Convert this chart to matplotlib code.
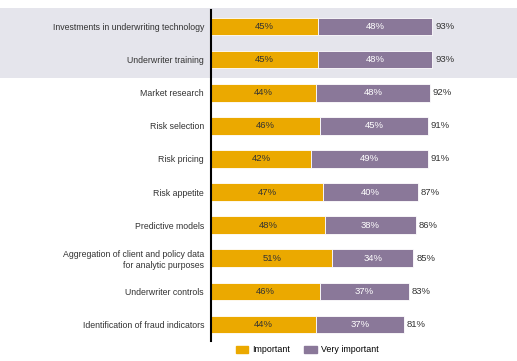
import matplotlib
matplotlib.use("Agg")
import matplotlib.pyplot as plt
import matplotlib.transforms as mtrans
from matplotlib.patches import Rectangle, Patch

plt.rcParams['font.family'] = ['Liberation Sans', 'DejaVu Sans']

labels = ["Investments in underwriting technology", "Underwriter training",
          "Market research", "Risk selection", "Risk pricing", "Risk appetite",
          "Predictive models",
          "Aggregation of client and policy data\nfor analytic purposes",
          "Underwriter controls", "Identification of fraud indicators"]
important = [45, 45, 44, 46, 42, 47, 48, 51, 46, 44]
very_important = [48, 48, 48, 45, 49, 40, 38, 34, 37, 37]
totals = [93, 93, 92, 91, 91, 87, 86, 85, 83, 81]

orange = '#EBA900'
purple = '#8A7899'

fig = plt.figure(figsize=(5.17, 3.61), dpi=100)
ax = fig.add_axes([211/517, 1-341/361, 238/517, 331/361])
ax.set_facecolor('none')

y = list(range(len(labels)))
ax.barh(y, important, height=0.53, color=orange, edgecolor='white', linewidth=0.6)
ax.barh(y, very_important, left=important, height=0.53, color=purple,
        edgecolor='white', linewidth=0.6)

for i in y:
    ax.text(important[i] / 2, i, f"{important[i]}%", ha='center', va='center',
            fontsize=6.8, color='#333333')
    ax.text(important[i] + very_important[i] / 2, i, f"{very_important[i]}%",
            ha='center', va='center', fontsize=6.8, color='white')
    ax.text(totals[i] + 1.2, i, f"{totals[i]}%", ha='left', va='center',
            fontsize=6.8, color='#333333')

ax.set_xlim(0, 100)
ax.set_ylim(len(labels) - 0.5, -0.5)
ax.set_yticks(y)
ax.set_yticklabels(labels, fontsize=6.3, color='#333333')
ax.tick_params(axis='y', length=0, pad=5)
ax.set_xticks([])
for s in ['top', 'right', 'bottom']:
    ax.spines[s].set_visible(False)
ax.spines['left'].set_linewidth(1.5)
ax.spines['left'].set_color('black')

# shaded band behind the first two rows
tr = mtrans.blended_transform_factory(fig.transFigure, ax.transData)
fig.patches.append(Rectangle((0, -0.56), 1, 2.1, transform=tr, facecolor='#E5E5EC',
                             edgecolor='none', zorder=-10))

handles = [Patch(color=orange, label='Important'),
           Patch(color=purple, label='Very important')]
fig.legend(handles=handles, loc='center', bbox_to_anchor=(307/517, 1-350/361),
           ncol=2, frameon=False, fontsize=6.4, handlelength=1.4, handleheight=0.9,
           handletextpad=0.45, columnspacing=1.6)

fig.savefig('out.png', dpi=100)
